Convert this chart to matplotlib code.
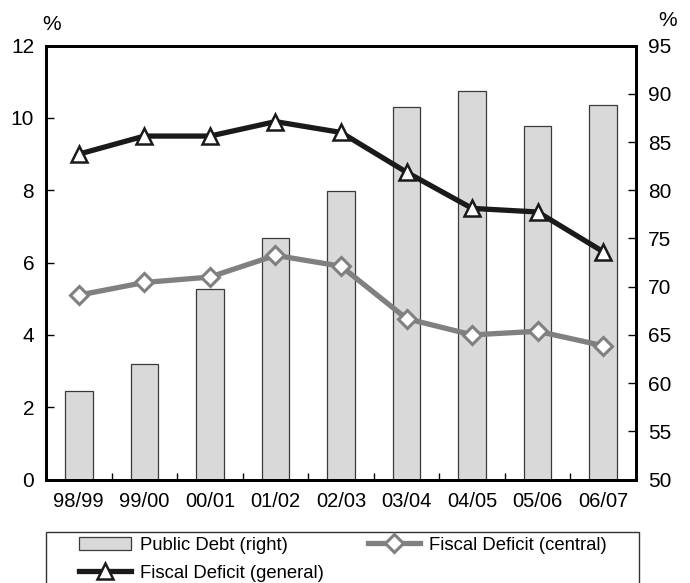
import numpy as np
import matplotlib.pyplot as plt
from matplotlib.patches import Rectangle
from matplotlib.ticker import FixedLocator

plt.rcParams['font.family'] = ['Liberation Sans', 'DejaVu Sans']

years = ['98/99', '99/00', '00/01', '01/02', '02/03', '03/04', '04/05', '05/06', '06/07']
public_debt = [59.2, 62.0, 69.8, 75.0, 79.9, 88.6, 90.3, 86.7, 88.9]
deficit_general = [9.0, 9.5, 9.5, 9.9, 9.6, 8.5, 7.5, 7.4, 6.3]
deficit_central = [5.1, 5.45, 5.6, 6.2, 5.9, 4.45, 4.0, 4.1, 3.7]

x = np.arange(len(years))
W, H = 690, 583

fig = plt.figure(figsize=(6.9, 5.83), dpi=100)
ax = fig.add_axes([46 / W, (H - 479.5) / H, 590 / W, 433.8 / H])
ax2 = ax.twinx()

# bars on the right axis, lines on the left axis drawn above
ax.set_zorder(ax2.get_zorder() + 1)
ax.patch.set_visible(False)

bars = ax2.bar(x, public_debt, width=0.42, bottom=0, color='#d9d9d9',
               edgecolor='#3a3a3a', linewidth=0.9, label='Public Debt (right)')
ax2.set_ylim(50, 95)

l_gen, = ax.plot(x, deficit_general, color='#1a1a1a', linewidth=3.8, marker='^',
                 markersize=12, markerfacecolor='white', markeredgecolor='#1a1a1a',
                 markeredgewidth=1.8, label='Fiscal Deficit (general)')
l_cen, = ax.plot(x, deficit_central, color='#808080', linewidth=3.8, marker='D',
                 markersize=9.5, markerfacecolor='white', markeredgecolor='#808080',
                 markeredgewidth=2.2, label='Fiscal Deficit (central)')

ax.set_xlim(-0.5, len(years) - 0.5)
ax.set_ylim(0, 12)
ax.set_yticks(np.arange(0, 13, 2))
ax2.set_yticks(np.arange(50, 96, 5))

ax.xaxis.set_major_locator(FixedLocator(x))
ax.set_xticklabels(years)
ax.xaxis.set_minor_locator(FixedLocator(x[:-1] + 0.5))
ax.tick_params(axis='x', which='major', length=0, labelsize=14.5, pad=9)
ax.tick_params(axis='x', which='minor', direction='in', length=5, width=1)
ax.tick_params(axis='y', direction='in', length=6, width=1, labelsize=15, pad=8.5)
ax2.tick_params(axis='y', direction='in', length=6, width=1, labelsize=15, pad=8.5)

for a in (ax, ax2):
    for s in a.spines.values():
        s.set_linewidth(2)
        s.set_color('black')

fig.text(51.5 / W, (H - 24.5) / H, '%', fontsize=15, ha='center', va='center')
fig.text(668 / W, (H - 21) / H, '%', fontsize=15, ha='center', va='center')

# legend box runs off the bottom of the picture
fig.patches.append(Rectangle((46 / W, -0.05), (639 - 46) / W, 0.05 + (H - 531.5) / H,
                             transform=fig.transFigure, facecolor='white',
                             edgecolor='#333333', linewidth=1, zorder=0))

fig.legend([bars, l_gen, l_cen],
           ['Public Debt (right)', 'Fiscal Deficit (general)', 'Fiscal Deficit (central)'],
           loc='upper left', bbox_to_anchor=(79 / W, (H - 536.5) / H), borderaxespad=0,
           borderpad=0, ncol=2, fontsize=13.3, frameon=False,
           handlelength=2.82, handleheight=0.7, handletextpad=0.49,
           columnspacing=2.4, labelspacing=0.6)

plt.savefig('out.png', dpi=100)
plt.close('all')
